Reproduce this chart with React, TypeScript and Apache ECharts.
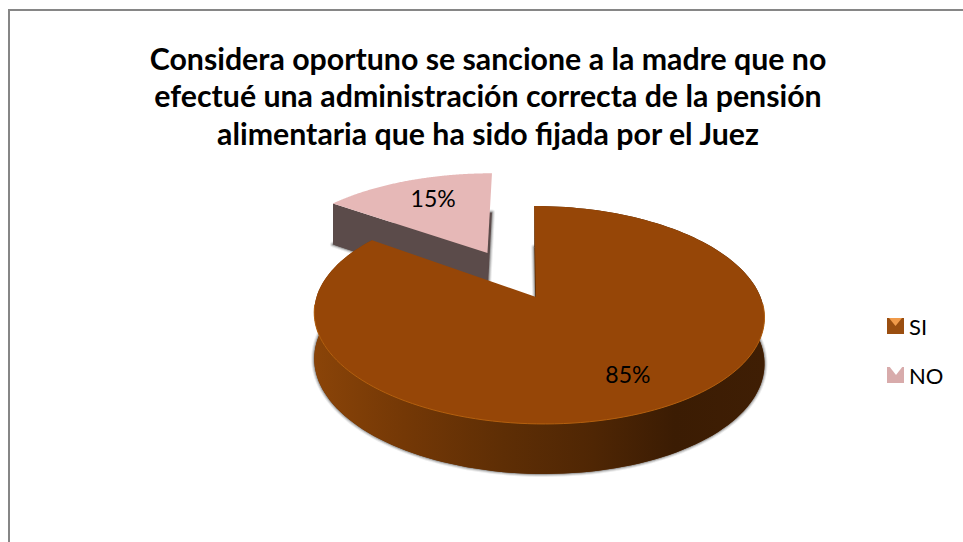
import React, { useEffect, useRef } from "react";
import * as echarts from "echarts";

const categories = ["SI", "NO"];
const values = [85, 15];
const explode = [0, 0.5];
const topColors = ["#964607", "#E6B8B7"];
const legendColors = ["#9A4E10", "#D8ABAB"];
const titleLines = [
  "Considera oportuno se sancione a la madre que no",
  "efectué una administración correcta de la pensión",
  "alimentaria que ha sido fijada por el Juez",
];

const FONT = "Lato, Carlito, sans-serif";
const view = { x0: 538.5, y0: 297, A: 222, B: 106, p: 0.165, skew: -5, labelR: 0.74 };
const total = values.reduce((a, b) => a + b, 0);

function project(u: number, v: number): [number, number] {
  const d = 1 + view.p * v;
  return [view.x0 + (view.A * u + view.skew * v) / d, view.y0 - (view.B * v) / d];
}
const wallHeight = (v: number) => 45.6 - 4.4 * v;

function sliceAngles(i: number) {
  let start = 0;
  for (let k = 0; k < i; k++) start += (values[k] / total) * Math.PI * 2;
  return [start, start + (values[i] / total) * Math.PI * 2];
}

function renderSlice(i: number) {
  const [a0, a1] = sliceAngles(i);
  const mid = (a0 + a1) / 2;
  const ou = explode[i] * Math.sin(mid);
  const ov = explode[i] * Math.cos(mid);
  const apexFix = i === 0 ? -2.5 : -2;
  const widen = i === 0 ? 1 : 1.03;
  const N = 160;
  const arc: { u: number; v: number; a: number }[] = [];
  for (let k = 0; k <= N; k++) {
    const a = a0 + ((a1 - a0) * k) / N;
    arc.push({ u: ou + widen * Math.sin(a), v: ov + Math.cos(a), a });
  }
  const apexTop = project(ou, ov);
  apexTop[0] += apexFix;
  const top = [apexTop, ...arc.map((q) => project(q.u, q.v))];
  const down = (pt: [number, number] | number[], v: number) => [pt[0], pt[1] + wallHeight(v)];
  const bottom = [down(apexTop, ov), ...arc.map((q) => down(project(q.u, q.v), q.v))];

  const children: any[] = [];
  const wallFill = new echarts.graphic.LinearGradient(0, 0, 1, 0, [
    { offset: 0, color: "#8A4408" },
    { offset: 0.2, color: "#743806" },
    { offset: 0.42, color: "#5E2E05" },
    { offset: 0.62, color: "#4F2604" },
    { offset: 0.8, color: "#3B1C03" },
    { offset: 1, color: "#3F1E04" },
  ]);
  // soft halo below the bottom face
  [
    [6, "rgba(150,150,150,0.18)"],
    [4, "rgba(130,130,130,0.28)"],
    [2, "rgba(110,110,110,0.45)"],
  ].forEach(([w, c]) => {
    children.push({
      type: "polygon",
      shape: { points: bottom },
      style: { fill: "none", stroke: c, lineWidth: w, lineJoin: "round" },
    });
  });
  children.push({
    type: "polygon",
    shape: { points: bottom },
    style: { fill: i === 0 ? "#5E2E05" : "#5B4B4A" },
  });
  if (i === 0) {
    const arcTop = top.slice(1);
    const arcBottom = bottom.slice(1).reverse();
    children.push({
      type: "polygon",
      shape: { points: [...arcTop, ...arcBottom] },
      style: { fill: wallFill },
    });
  } else {
    children.push({
      type: "polygon",
      shape: { points: [top[0], top[1], bottom[1], bottom[0]] },
      style: { fill: "#5B4B4A" },
    });
  }
  children.push({
    type: "polygon",
    shape: { points: top },
    style: { fill: topColors[i] },
  });
  if (i === 0) {
    const rim = arc
      .filter((q) => q.a > Math.PI * 0.52 && q.a < Math.PI * 1.48)
      .map((q) => project(q.u, q.v));
    children.push({
      type: "polyline",
      shape: { points: rim },
      style: { fill: "none", stroke: "#B4600F", lineWidth: 1 },
    });
  }
  const [lx, ly] = project(ou + view.labelR * Math.sin(mid), ov + view.labelR * Math.cos(mid));
  children.push({
    type: "text",
    style: {
      text: `${Math.round((values[i] / total) * 100)}%`,
      x: lx + (i === 0 ? 2 : 5),
      y: ly - (i === 0 ? 1 : 0),
      align: "center",
      verticalAlign: "middle",
      font: `23px ${FONT}`,
      fill: "#000",
    },
  });
  return { type: "group", children };
}

export default function App() {
  const ref = useRef<HTMLDivElement>(null);
  useEffect(() => {
    document.body.style.margin = "0";
    document.body.style.background = "#fff";
    const chart = echarts.init(ref.current!, undefined, { renderer: "svg" });
    chart.setOption({
      animation: false,
      backgroundColor: "#fff",
      title: {
        text: titleLines.join("\n"),
        left: 483,
        top: 34,
        textAlign: "center",
        textStyle: {
          fontFamily: FONT,
          fontWeight: "bold",
          fontSize: 30.3,
          lineHeight: 37.5,
          color: "#000",
        },
      },
      legend: {
        orient: "vertical",
        left: 882,
        top: 310,
        itemWidth: 17,
        itemHeight: 16,
        itemGap: 27,
        icon: "rect",
        selectedMode: false,
        data: categories,
        textStyle: { fontFamily: FONT, fontSize: 22, color: "#000" },
      },
      graphic: [
        {
          type: "polyline",
          shape: { points: [[9, 542], [9, 10], [963, 10]] },
          style: { fill: "none", stroke: "#868686", lineWidth: 2 },
          silent: true,
        },
        {
          type: "polygon",
          shape: { points: [[889, 318], [902, 318], [895.5, 326]] },
          style: { fill: "#F09A4A" },
          silent: true,
          z: 50,
        },
        {
          type: "polygon",
          shape: { points: [[889, 366], [903, 366], [896, 375]] },
          style: { fill: "#FFFFFF" },
          silent: true,
          z: 50,
        },
      ],
      series: [1, 0].map((i) => ({
        type: "custom",
        name: categories[i],
        coordinateSystem: "none",
        silent: true,
        z: i === 0 ? 3 : 2,
        itemStyle: { color: legendColors[i] },
        data: [values[i]],
        renderItem: () => renderSlice(i),
      })),
    });
    return () => chart.dispose();
  }, []);
  return (
    <div
      ref={ref}
      style={{ position: "absolute", left: 0, top: 0, width: 963, height: 542, overflow: "hidden" }}
    />
  );
}
